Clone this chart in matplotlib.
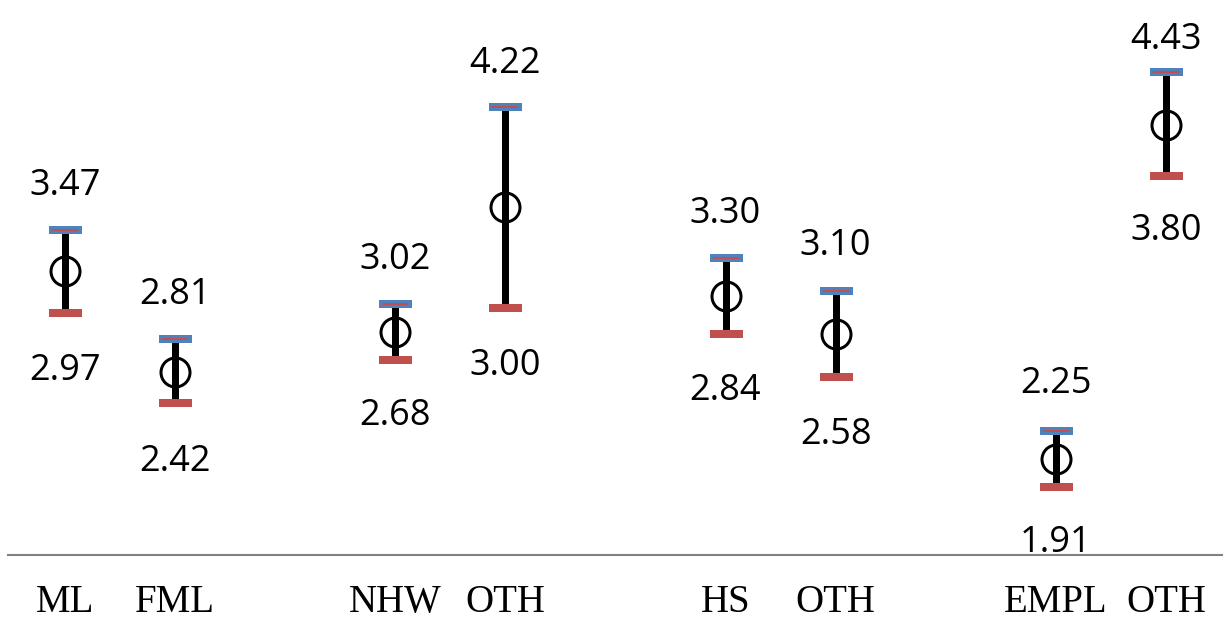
import matplotlib
matplotlib.use("Agg")
import matplotlib.pyplot as plt

# Data
categories = ["ML", "FML", "NHW", "OTH", "HS", "OTH", "EMPL", "OTH"]
positions = [0, 1, 3, 4, 6, 7, 9, 10]
upper = [3.47, 2.81, 3.02, 4.22, 3.30, 3.10, 2.25, 4.43]
lower = [2.97, 2.42, 2.68, 3.00, 2.84, 2.58, 1.91, 3.80]
center = [3.22, 2.61, 2.85, 3.61, 3.07, 2.84, 2.08, 4.11]

BLUE = "#4f81bd"
RED = "#c0504d"
PX = 72 / 100  # points per pixel

fig = plt.figure(figsize=(12.28, 6.21), dpi=100)
ax = fig.add_axes([8 / 1228, (621 - 555) / 621, 1214 / 1228, 555 / 621])
ax.set_xlim(-0.518, 10.51)
ax.set_ylim(1.5, 4.867)

for s in ["top", "left", "right"]:
    ax.spines[s].set_visible(False)
ax.spines["bottom"].set_color("#808080")
ax.spines["bottom"].set_linewidth(1.5)
ax.set_yticks([])
ax.set_xticks(positions)
ax.set_xticklabels(categories, fontfamily="Liberation Serif", fontsize=28)
ax.tick_params(axis="x", length=0, pad=21)

# vertical bars
ax.vlines(positions, lower, upper, color="black", linewidth=7 * PX, zorder=2)
# caps
ax.plot(positions, upper, linestyle="none", marker="_", markersize=33 * PX,
        markeredgewidth=8 * PX, color=BLUE, zorder=3)
ax.plot(positions, upper, linestyle="none", marker="_", markersize=27 * PX,
        markeredgewidth=2 * PX, color=RED, zorder=4)
ax.plot(positions, lower, linestyle="none", marker="_", markersize=33 * PX,
        markeredgewidth=8 * PX, color=RED, zorder=3)
# center circles
ax.plot(positions, center, linestyle="none", marker="o", markersize=29 * PX,
        markerfacecolor="none", markeredgecolor="black", markeredgewidth=3 * PX,
        zorder=5)

up_off = [44, 44, 44, 43, 44, 45, 47, 32]
lo_off = [58, 59, 56, 58, 57, 58, 56, 55]
for x, u, l, uo, lo in zip(positions, upper, lower, up_off, lo_off):
    ax.annotate(f"{u:.2f}", (x, u), xytext=(0, uo * PX), textcoords="offset points",
                ha="center", va="center", fontsize=26, fontfamily="Open Sans",
                annotation_clip=False)
    ax.annotate(f"{l:.2f}", (x, l), xytext=(0, -lo * PX), textcoords="offset points",
                ha="center", va="center", fontsize=26, fontfamily="Open Sans",
                annotation_clip=False)

fig.savefig("out.png", dpi=100)
